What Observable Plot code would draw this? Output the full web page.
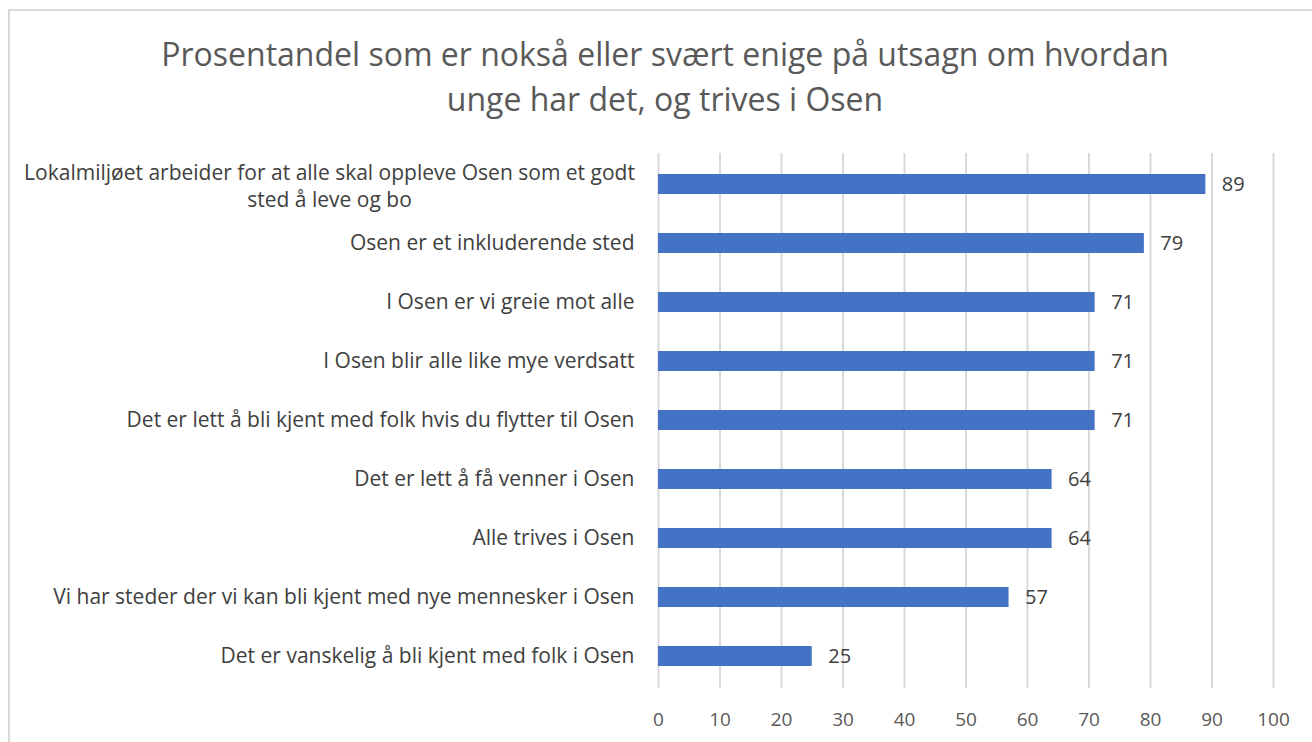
<!DOCTYPE html>
<html>
<head>
<meta charset="utf-8">
<script src="https://cdn.jsdelivr.net/npm/d3@7"></script>
<script src="https://cdn.jsdelivr.net/npm/@observablehq/plot@0.6"></script>
<style>
  html, body { margin: 0; padding: 0; background: #fff; }
  #frame { position: absolute; left: 8px; top: 9px; width: 1320px; height: 760px; border-left: 2px solid #d9d9d9; border-top: 2px solid #d9d9d9; }
  #title { position: absolute; left: 0; top: 0; width: 1330px; text-align: center; font-family: "Open Sans", sans-serif; font-size: 32px; color: #595959; line-height: 45px; padding-top: 31px; }
  #chart { position: absolute; left: 0; top: 130px; }
</style>
</head>
<body>
<div id="frame"></div>
<div id="title">Prosentandel som er nokså eller svært enige på utsagn om hvordan<br>unge har det, og trives i Osen</div>
<div id="chart"></div>
<script>
const categories = [
  "Lokalmiljøet arbeider for at alle skal oppleve Osen som et godt\nsted å leve og bo",
  "Osen er et inkluderende sted",
  "I Osen er vi greie mot alle",
  "I Osen blir alle like mye verdsatt",
  "Det er lett å bli kjent med folk hvis du flytter til Osen",
  "Det er lett å få venner i Osen",
  "Alle trives i Osen",
  "Vi har steder der vi kan bli kjent med nye mennesker i Osen",
  "Det er vanskelig å bli kjent med folk i Osen"
];
const values = [89, 79, 71, 71, 71, 64, 64, 57, 25];
const xTicks = [0, 10, 20, 30, 40, 50, 60, 70, 80, 90, 100];

const data = categories.map((c, i) => ({category: c, value: values[i]}));

const chart = Plot.plot({
  width: 1312,
  height: 612,
  marginLeft: 658,
  marginRight: 39,
  marginTop: 23,
  marginBottom: 54,
  style: {fontFamily: "'Open Sans', sans-serif", background: "transparent"},
  x: {domain: [0, 100], ticks: xTicks},
  y: {domain: categories, padding: 0.66, paddingOuter: 0.33},
  marks: [
    Plot.gridX(xTicks, {stroke: "#d9d9d9", strokeOpacity: 1, strokeWidth: 2}),
    Plot.axisX({ticks: xTicks, tickSize: 0, tickPadding: 24, fontSize: 19, color: "#595959", label: null}),
    Plot.axisY({tickSize: 0, tickPadding: 24, fontSize: 21, color: "#404040", label: null,
      tickFormat: d => d === categories[0] ? "" : d}),
    Plot.text([categories[0]], {y: d => d, text: d => d, frameAnchor: "left", textAnchor: "middle", dx: -329, fontSize: 21, fill: "#404040", lineHeight: 1.29}),
    Plot.barX(data, {x: "value", y: "category", fill: "#4472c4"}),
    Plot.text(data, {x: "value", y: "category", text: d => String(d.value), textAnchor: "start", dx: 16, fontSize: 20, fill: "#404040"})
  ]
});
document.getElementById("chart").appendChild(chart);
</script>
</body>
</html>
